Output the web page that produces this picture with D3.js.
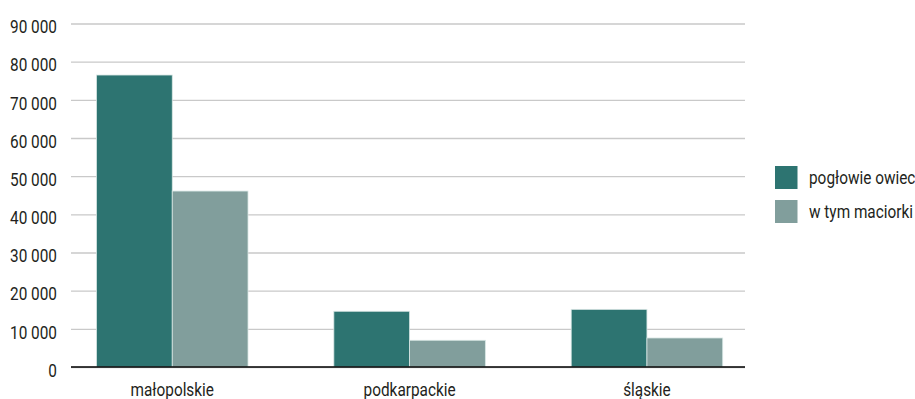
<!DOCTYPE html>
<html><head><meta charset="utf-8">
<script src="https://cdn.jsdelivr.net/npm/d3@7"></script>
<style>
body{margin:0;background:#fff;}
text{font-family:Roboto,"Liberation Sans",sans-serif;font-weight:400;fill:#231f20;}
</style></head>
<body><svg id="c" width="915" height="399"></svg>
<script>
const categories = ["małopolskie", "podkarpackie", "śląskie"];
const seriesNames = ["pogłowie owiec", "w tym maciorki"];
const sheep = [76500, 14600, 15100];
const ewes = [46100, 7000, 7600];
const yTicks = [0, 10000, 20000, 30000, 40000, 50000, 60000, 70000, 80000, 90000];
const colors = ["#2d7471", "#819e9c"];

const svg = d3.select("#c");
const L = 71, R = 745, T = 23.5, B = 367;
const SX = 0.83, FS = 18.5;
const FF = 'Roboto,"Liberation Sans",sans-serif';
const y = d3.scaleLinear().domain([0, 90000]).range([B, T]);
const x = d3.scaleBand().domain(categories).range([96.5, 722.7]).paddingInner(0.3617).paddingOuter(0);
const xs = d3.scaleBand().domain(seriesNames).range([0, x.bandwidth()]);
const fmt = v => d3.format(",")(v).replace(/,/g, " ");

function condense(sel) {
  sel.each(function () {
    const t = d3.select(this);
    const x0 = +t.attr("x") || 0;
    t.attr("x", x0 / SX).attr("transform", `scale(${SX},1)`)
     .attr("font-size", FS).style("font-family", FF).attr("fill", "#231f20");
  });
}

// gridlines + y labels
const yAxis = d3.axisLeft(y).tickValues(yTicks).tickFormat(fmt).tickSize(-(R - L)).tickPadding(14);
const ga = svg.append("g").attr("transform", `translate(${L},0)`).call(yAxis);
ga.select(".domain").remove();
ga.selectAll(".tick line").attr("stroke", "#c9c9c9").attr("stroke-width", 1.3);
ga.selectAll(".tick text").attr("dy", "0.5em").call(condense);

// bars
const data = categories.map((c, i) => ({c, vals: [sheep[i], ewes[i]]}));
const groups = svg.append("g").selectAll("g").data(data).join("g")
  .attr("transform", d => `translate(${x(d.c)},0)`);
groups.selectAll("rect").data(d => d.vals.map((v, j) => ({v, s: seriesNames[j], j})))
  .join("rect")
  .attr("x", d => xs(d.s))
  .attr("width", xs.bandwidth())
  .attr("y", d => y(d.v))
  .attr("height", d => y(0) - y(d.v))
  .attr("fill", d => colors[d.j])
  .attr("stroke", "#d8e6e4").attr("stroke-width", 0.8);

// x axis baseline + labels
svg.append("line").attr("x1", L).attr("x2", R).attr("y1", B).attr("y2", B)
  .attr("stroke", "#000").attr("stroke-width", 1.3);
const xAxis = d3.axisBottom(x).tickSize(0).tickPadding(16);
const gx = svg.append("g").attr("transform", `translate(0,${B})`).call(xAxis);
gx.select(".domain").remove();
gx.selectAll(".tick text").call(condense);

// legend
const lg = svg.append("g").attr("transform", "translate(775,166)");
seriesNames.forEach((s, i) => {
  const g = lg.append("g").attr("transform", `translate(0,${i * 34})`);
  g.append("rect").attr("width", 22.5).attr("height", 23).attr("fill", colors[i]);
  g.append("text").attr("x", 34).attr("y", 18.5).text(s).call(condense);
});
</script></body></html>
